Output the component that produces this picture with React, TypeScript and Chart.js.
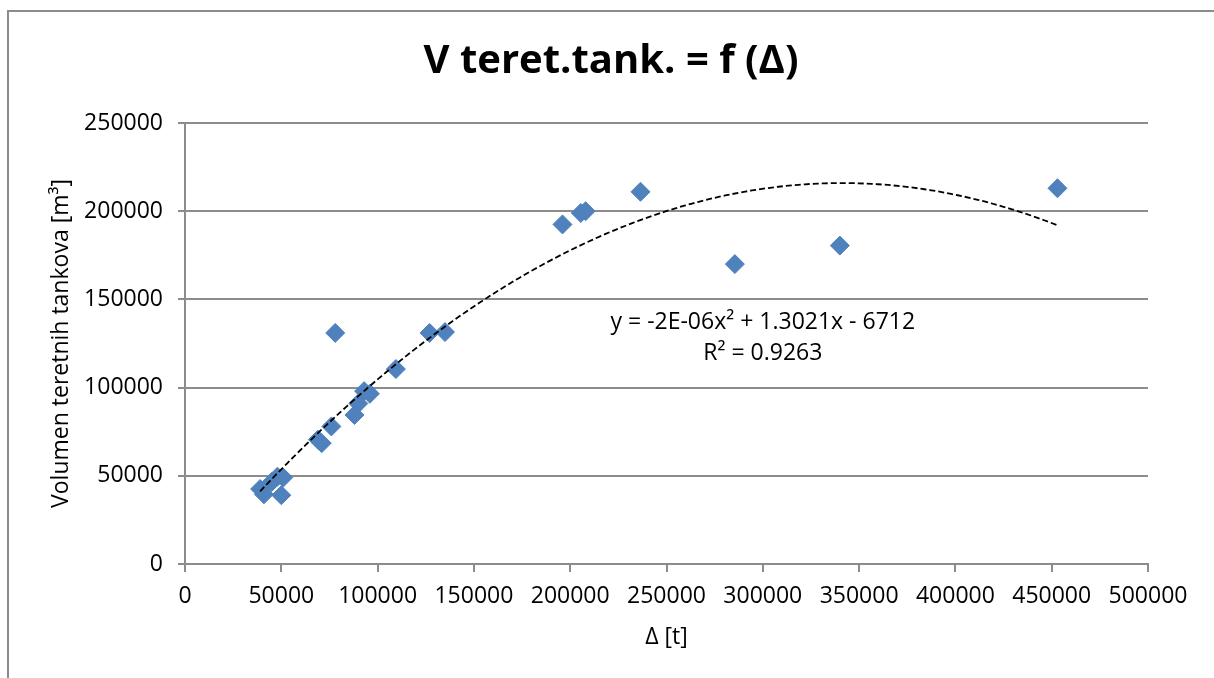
import React, { useEffect, useRef } from 'react';
import { Chart, registerables } from 'chart.js';

Chart.register(...registerables);

// ---- data ----
const DISPLACEMENT_T = [
  39000, 41000, 45000, 48000, 51000, 50000, 69000, 71000, 76000, 78000, 88000, 90000,
  93000, 96000, 109500, 127000, 135000, 196000, 205500, 208000, 236500, 285500, 340000, 453000,
];
const CARGO_VOLUME_M3 = [
  42500, 39500, 46500, 49500, 49000, 39000, 70500, 68500, 78000, 131000, 84500, 91000,
  98000, 96500, 110500, 131000, 131500, 192500, 199000, 200000, 211000, 170000, 180500, 213000,
];
const X_TICK_MIN = 0;
const X_TICK_MAX = 500000;
const X_TICK_STEP = 50000;
const Y_TICK_MIN = 0;
const Y_TICK_MAX = 250000;
const Y_TICK_STEP = 50000;

const TITLE_TEXT = 'V teret.tank. = f (Δ)';
const X_TITLE = 'Δ [t]';
const Y_TITLE = 'Volumen teretnih tankova [m³]';
const EQUATION_TEXT = 'y = -2E-06x² + 1.3021x - 6712';
const R2_TEXT = 'R² = 0.9263';
const LABEL_ANCHOR_X = 300000;
const LABEL_ANCHOR_Y = 137000;
const TREND_SAMPLES = 120;

const FONT = '"Open Sans", "Noto Sans", sans-serif';
const GRID = '#8c8c8c';
const MARKER = '#4f81bd';

// least-squares quadratic fit (polynomial trendline, order 2)
function fitQuadratic(xs: number[], ys: number[]) {
  const s = 1e5;
  const n = xs.length;
  const S = [0, 0, 0, 0, 0];
  const T = [0, 0, 0];
  for (let i = 0; i < n; i++) {
    const x = xs[i] / s;
    const y = ys[i];
    let p = 1;
    for (let k = 0; k < 5; k++) {
      S[k] += p;
      if (k < 3) T[k] += p * y;
      p *= x;
    }
  }
  const M = [
    [S[0], S[1], S[2], T[0]],
    [S[1], S[2], S[3], T[1]],
    [S[2], S[3], S[4], T[2]],
  ];
  for (let c = 0; c < 3; c++) {
    let piv = c;
    for (let r = c + 1; r < 3; r++) if (Math.abs(M[r][c]) > Math.abs(M[piv][c])) piv = r;
    [M[c], M[piv]] = [M[piv], M[c]];
    for (let r = 0; r < 3; r++) {
      if (r === c) continue;
      const f = M[r][c] / M[c][c];
      for (let k = c; k < 4; k++) M[r][k] -= f * M[c][k];
    }
  }
  const c0 = M[0][3] / M[0][0];
  const c1 = M[1][3] / M[1][1];
  const c2 = M[2][3] / M[2][2];
  return (x: number) => c0 + c1 * (x / s) + c2 * (x / s) * (x / s);
}

const labelsPlugin = {
  id: 'textLabels',
  afterDraw(chart: any) {
    const { ctx, scales } = chart;
    ctx.save();
    ctx.fillStyle = '#000';
    ctx.textAlign = 'center';
    ctx.textBaseline = 'middle';
    // chart title
    ctx.font = `bold 40px ${FONT}`;
    ctx.fillText(TITLE_TEXT, chart.width / 2 + 4, 62);
    // trendline equation
    const cx = scales.x.getPixelForValue(LABEL_ANCHOR_X);
    const cy = scales.y.getPixelForValue(LABEL_ANCHOR_Y);
    ctx.font = `23px ${FONT}`;
    ctx.fillText(EQUATION_TEXT, cx, cy);
    ctx.fillText(R2_TEXT, cx, cy + 31);
    ctx.restore();
  },
};

export default function App() {
  const ref = useRef<HTMLCanvasElement | null>(null);

  useEffect(() => {
    if (!ref.current) return;
    const trend = fitQuadratic(DISPLACEMENT_T, CARGO_VOLUME_M3);
    const xmin = Math.min(...DISPLACEMENT_T);
    const xmax = Math.max(...DISPLACEMENT_T);
    const trendPts = [] as { x: number; y: number }[];
    for (let i = 0; i <= TREND_SAMPLES; i++) {
      const x = xmin + ((xmax - xmin) * i) / TREND_SAMPLES;
      trendPts.push({ x, y: trend(x) });
    }
    const points = DISPLACEMENT_T.map((x, i) => ({ x, y: CARGO_VOLUME_M3[i] }));

    const chart = new Chart(ref.current, {
      type: 'scatter',
      data: {
        datasets: [
          {
            label: 'V',
            data: points,
            pointStyle: 'rectRot',
            pointRadius: 9.5,
            pointBackgroundColor: MARKER,
            pointBorderColor: MARKER,
            pointBorderWidth: 1,
            showLine: false,
            order: 2,
          },
          {
            label: 'trend',
            data: trendPts,
            showLine: true,
            pointRadius: 0,
            borderColor: '#000',
            borderWidth: 1.8,
            borderDash: [6, 3],
            fill: false,
            order: 1,
          },
        ],
      },
      options: {
        responsive: false,
        animation: false,
        layout: { padding: { top: 123, left: 8, right: 66, bottom: 0 } },
        plugins: {
          legend: { display: false },
          tooltip: { enabled: false },
          title: { display: false },
        },
        scales: {
          x: {
            type: 'linear',
            min: X_TICK_MIN,
            max: X_TICK_MAX,
            ticks: {
              stepSize: X_TICK_STEP,
              color: '#000',
              font: { family: FONT, size: 23 },
              padding: 11,
              maxRotation: 0,
              callback: (v: any) => String(v),
            },
            grid: {
              display: true,
              drawOnChartArea: false,
              drawTicks: true,
              tickLength: 8,
              color: GRID,
              lineWidth: 2,
            },
            border: { display: true, color: GRID, width: 2 },
            title: {
              display: true,
              text: X_TITLE,
              color: '#000',
              font: { family: FONT, size: 23, lineHeight: 1.2 },
              padding: { top: 0, bottom: 27 },
            },
            afterFit: (scale: any) => {
              scale.height = 114;
            },
          },
          y: {
            type: 'linear',
            min: Y_TICK_MIN,
            max: Y_TICK_MAX,
            ticks: {
              stepSize: Y_TICK_STEP,
              color: '#000',
              font: { family: FONT, size: 23 },
              padding: 15,
              callback: (v: any) => String(v),
            },
            grid: {
              display: true,
              drawOnChartArea: true,
              drawTicks: true,
              tickLength: 7,
              color: GRID,
              lineWidth: 2,
            },
            border: { display: true, color: GRID, width: 2 },
            title: {
              display: true,
              text: Y_TITLE,
              color: '#000',
              font: { family: FONT, size: 23, lineHeight: 1.2 },
              padding: { top: 40, bottom: 0 },
            },
            afterFit: (scale: any) => {
              scale.width = 177;
            },
          },
        },
      },
      plugins: [labelsPlugin],
    } as any);
    return () => chart.destroy();
  }, []);

  return (
    <div style={{ position: 'fixed', inset: 0, overflow: 'hidden', background: '#fff' }}>
      <div
        style={{
          position: 'absolute',
          left: 7,
          top: 10,
          width: 1400,
          height: 900,
          borderTop: `2px solid ${GRID}`,
          borderLeft: `2px solid ${GRID}`,
        }}
      />
      <canvas
        ref={ref}
        width={1214}
        height={678}
        style={{ position: 'absolute', left: 0, top: 0, width: 1214, height: 678 }}
      />
    </div>
  );
}
